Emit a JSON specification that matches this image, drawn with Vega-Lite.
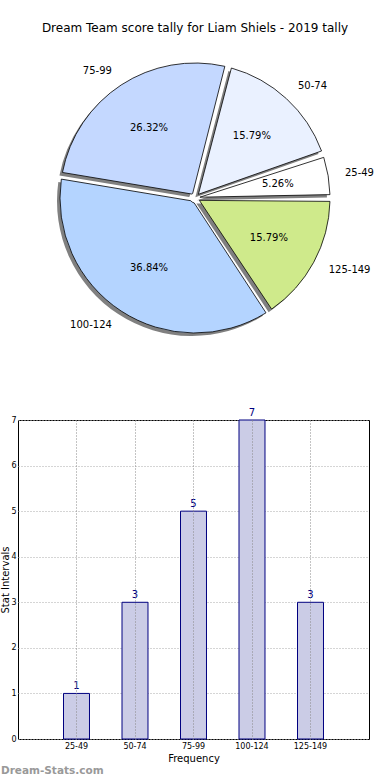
{
  "$schema": "https://vega.github.io/schema/vega-lite/v6.json",
  "padding": {"left": 0, "top": 22, "right": 0, "bottom": 0},
  "background": "white",
  "config": {"font": "DejaVu Sans", "view": {"stroke": null}},
  "datasets": {
    "tally": [
      {"range": "25-49", "lo": 25, "count": 1, "pct": "5.26%"},
      {"range": "50-74", "lo": 50, "count": 3, "pct": "15.79%"},
      {"range": "75-99", "lo": 75, "count": 5, "pct": "26.32%"},
      {"range": "100-124", "lo": 100, "count": 7, "pct": "36.84%"},
      {"range": "125-149", "lo": 125, "count": 3, "pct": "15.79%"}
    ]
  },
  "bounds": "flush",
  "spacing": 73,
  "vconcat": [
    {
      "width": 354,
      "height": 298,
      "title": {"text": "Dream Team score tally for Liam Shiels - 2019 tally", "fontSize": 12, "fontWeight": "normal", "frame": "group", "anchor": "middle", "offset": 14, "color": "black"},
      "data": {"name": "tally"},
      "encoding": {
        "theta": {"field": "count", "type": "quantitative", "stack": true, "scale": {"range": [1.5708, -4.7124]}},
        "order": {"field": "lo", "type": "quantitative"}
      },
      "layer": [
        {"mark": {"type": "arc", "outerRadius": 135, "innerRadius": 5, "padAngle": 0.05, "fill": "#808080", "xOffset": -3, "yOffset": 3}},
        {
          "mark": {"type": "arc", "outerRadius": 135, "innerRadius": 5, "padAngle": 0.05, "stroke": "black", "strokeWidth": 0.8},
          "encoding": {
            "color": {"field": "range", "type": "nominal", "legend": null,
              "scale": {"domain": ["25-49", "50-74", "75-99", "100-124", "125-149"], "range": ["#ffffff", "#eaf1ff", "#c4d8ff", "#b4d4ff", "#cfea8b"]}}
          }
        },
        {
          "mark": {"type": "text", "radius": 152, "fontSize": 10, "baseline": "middle", "color": "black",
            "align": {"expr": "((datum.count_start + datum.count_end) / 2 < 4.75 || (datum.count_start + datum.count_end) / 2 > 14.25) ? 'left' : 'right'"}},
          "encoding": {"text": {"field": "range", "type": "nominal"}}
        },
        {
          "mark": {"type": "text", "radius": 84, "fontSize": 10, "baseline": "middle", "align": "center", "color": "black"},
          "encoding": {"text": {"field": "pct", "type": "nominal"}}
        }
      ]
    },
    {
      "width": 351,
      "height": 319,
      "view": {"stroke": "black", "strokeWidth": 1},
      "title": {"text": "Dream-Stats.com", "orient": "bottom", "anchor": "start", "frame": "bounds", "fontSize": 10.5, "fontWeight": "bold", "color": "#999999", "offset": 3},
      "data": {"name": "tally"},
      "encoding": {
        "x": {"field": "range", "type": "nominal", "sort": null,
          "scale": {"paddingInner": 0.556, "paddingOuter": 0.778},
          "axis": {"title": "Frequency", "labelAngle": 0, "labelFontSize": 8, "titleFontSize": 10, "titleFontWeight": "normal", "ticks": false, "labelPadding": 3, "titlePadding": 3, "domain": false, "grid": true, "gridDash": [1, 2], "gridColor": "#888888", "zindex": 1, "labelColor": "black", "titleColor": "black"}},
        "y": {"field": "count", "type": "quantitative", "scale": {"domain": [0, 7]},
          "axis": {"title": "Stat Intervals", "values": [0, 1, 2, 3, 4, 5, 6, 7], "labelFontSize": 8, "titleFontSize": 10, "titleFontWeight": "normal", "ticks": false, "labelPadding": 2, "titlePadding": 0, "domain": false, "grid": true, "gridDash": [1, 2], "gridColor": "#aaaaaa", "zindex": 0, "labelColor": "black", "titleColor": "black"}}
      },
      "layer": [
        {"mark": {"type": "bar", "fill": "#cbcce6", "stroke": "#000080", "strokeWidth": 1}},
        {"mark": {"type": "text", "baseline": "bottom", "dy": -2, "fontSize": 10, "color": "#000080"},
          "encoding": {"text": {"field": "count", "type": "quantitative"}}}
      ]
    }
  ]
}
